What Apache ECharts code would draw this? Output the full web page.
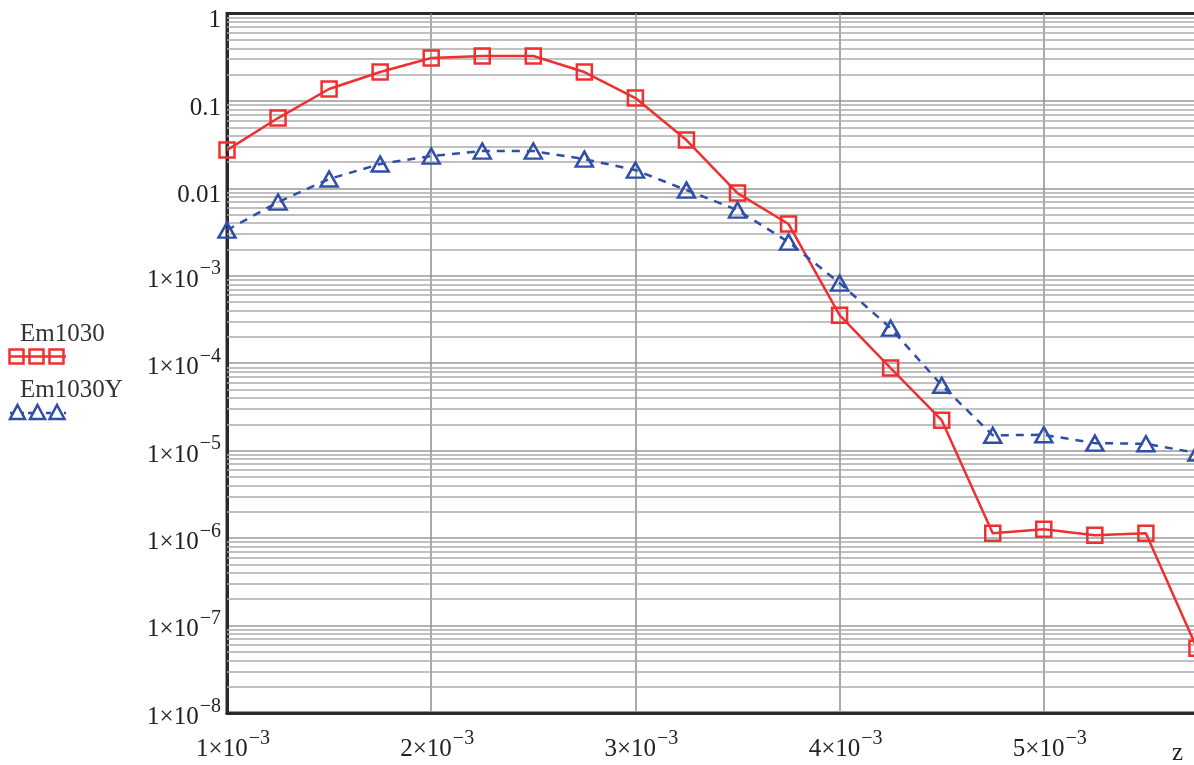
<!DOCTYPE html>
<html><head><meta charset="utf-8">
<script src="https://cdn.jsdelivr.net/npm/echarts@6/dist/echarts.min.js"></script>
<style>html,body{margin:0;padding:0;background:#fff}#c{width:1194px;height:765px}</style>
</head><body><div id="c"></div>
<script>
// ---- data ----
const zValues = [0.00100, 0.00125, 0.00150, 0.00175, 0.00200, 0.00225, 0.00250, 0.00275, 0.00300, 0.00325,
                 0.00350, 0.00375, 0.00400, 0.00425, 0.00450, 0.00475, 0.00500, 0.00525, 0.00550, 0.00575];
const em1030 = [0.0274, 0.0637, 0.137, 0.214, 0.31, 0.326, 0.326, 0.214, 0.108, 0.0357,
                0.00883, 0.00391, 3.55e-4, 8.8e-5, 2.23e-5, 1.14e-6, 1.26e-6, 1.08e-6, 1.14e-6, 5.5e-8];
const em1030Y = [0.00333, 0.00697, 0.0128, 0.019, 0.0234, 0.0267, 0.0267, 0.0216, 0.0162, 0.00955,
                 0.00565, 0.00243, 8.26e-4, 2.52e-4, 5.6e-5, 1.5e-5, 1.52e-5, 1.22e-5, 1.2e-5, 9.4e-6];
const seriesNames = ['Em1030', 'Em1030Y'];
const xTickValues = [0.001, 0.002, 0.003, 0.004, 0.005, 0.006];
const xTickLabels = ['{b|1×10}{s|−3}', '{b|2×10}{s|−3}', '{b|3×10}{s|−3}', '{b|4×10}{s|−3}', '{b|5×10}{s|−3}', '{b|6×10}{s|−3}'];
const yTickExponents = [0, -1, -2, -3, -4, -5, -6, -7, -8];
const yTickLabels = ['{p|1}', '{p|0.1}', '{p|0.01}', '{b|1×10}{s|−3}', '{b|1×10}{s|−4}', '{b|1×10}{s|−5}',
                     '{b|1×10}{s|−6}', '{b|1×10}{s|−7}', '{b|1×10}{s|−8}'];
const xAxisName = 'z';
// minor log grid values (2..9 of each decade)
const minorMantissas = [2, 3, 4, 5, 6, 7, 8, 9];
const minorDecades = [1e-8, 1e-7, 1e-6, 1e-5, 1e-4, 1e-3, 1e-2, 1e-1];

// ---- styling ----
const FONT = 'Liberation Serif';
const TXT = '#222';
const RED = '#ee3030';
const BLUE = '#2f4ea8';
const rich = {
  b: {fontFamily: FONT, fontSize: 25, lineHeight: 25, color: TXT, padding: [8.5, 0, 0, 0]},
  s: {fontFamily: FONT, fontSize: 20, lineHeight: 20, color: TXT, padding: [0, 0, 13.5, 1]},
  p: {fontFamily: FONT, fontSize: 25, lineHeight: 25, color: TXT, padding: [14, 0, 0, 0]}
};

const minorLines = [];
minorDecades.forEach(d => minorMantissas.forEach(m => minorLines.push({yAxis: m * d})));

const chart = echarts.init(document.getElementById('c'), null, {renderer: 'canvas'});
chart.setOption({
  backgroundColor: '#fff',
  animation: false,
  grid: {left: 227, top: 13.5, width: 1021, height: 699.5, outerBoundsMode: 'none', containLabel: false,
         show: true, borderColor: '#2a2a2a', borderWidth: 3, backgroundColor: 'transparent'},
  xAxis: {
    type: 'value', min: 0.001, max: 0.006, interval: 0.001,
    axisLine: {show: true, onZero: false, lineStyle: {color: '#2a2a2a', width: 3}},
    axisTick: {show: false},
    splitLine: {show: true, showMinLine: false, showMaxLine: false, lineStyle: {color: '#8a918a', width: 1.5}},
    axisLabel: {
      margin: 20, padding: [0, 0, 0, 12], rich: rich,
      formatter: v => { const i = xTickValues.findIndex(t => Math.abs(t - v) < 1e-9); return i >= 0 ? xTickLabels[i] : ''; }
    }
  },
  yAxis: {
    type: 'log', logBase: 10, min: 1e-8, max: 1, splitNumber: 8,
    axisLine: {show: true, lineStyle: {color: '#2a2a2a', width: 3}},
    axisTick: {show: false},
    splitLine: {show: true, showMinLine: false, showMaxLine: false, lineStyle: {color: '#9a9a9a', width: 1.5}},
    axisLabel: {
      margin: 6, rich: rich,
      formatter: v => { const e = Math.round(Math.log10(v)); const i = yTickExponents.indexOf(e); return i >= 0 ? yTickLabels[i] : ''; }
    }
  },
  legend: {
    orient: 'vertical', left: 10, top: 317, icon: 'none', itemWidth: 0, itemGap: 31,
    selectedMode: false, data: seriesNames,
    textStyle: {fontFamily: FONT, fontSize: 25, lineHeight: 25, color: '#333'}
  },
  series: [
    {
      name: seriesNames[0], type: 'line', data: zValues.map((z, i) => [z, em1030[i]]),
      symbol: 'rect', symbolSize: 15, showAllSymbol: true, z: 3,
      lineStyle: {color: RED, width: 2.5},
      itemStyle: {color: 'rgba(0,0,0,0)', borderColor: RED, borderWidth: 2.5},
      markLine: {
        silent: true, symbol: 'none', z: 1, animation: false, precision: 12,
        label: {show: false},
        lineStyle: {color: '#ababab', width: 1.5, type: 'solid'},
        emphasis: {disabled: true},
        data: minorLines
      }
    },
    {
      name: seriesNames[1], type: 'line', data: zValues.map((z, i) => [z, em1030Y[i]]),
      symbol: 'triangle', symbolSize: [17, 15], showAllSymbol: true, z: 4,
      lineStyle: {color: BLUE, width: 2.5, type: [8, 7]},
      itemStyle: {color: 'rgba(0,0,0,0)', borderColor: BLUE, borderWidth: 2.5}
    }
  ],
  graphic: [
    {type: 'text', left: 1172, top: 741, style: {text: xAxisName, fontFamily: FONT, fontSize: 25, fill: TXT}},
    // legend samples
    {type: 'line', shape: {x1: 9, y1: 356.5, x2: 66, y2: 356.5}, style: {stroke: RED, lineWidth: 2.5}},
    {type: 'rect', shape: {x: 9.5, y: 349.5, width: 14, height: 14}, style: {fill: 'none', stroke: RED, lineWidth: 2.5}},
    {type: 'rect', shape: {x: 29.5, y: 349.5, width: 14, height: 14}, style: {fill: 'none', stroke: RED, lineWidth: 2.5}},
    {type: 'rect', shape: {x: 49.5, y: 349.5, width: 14, height: 14}, style: {fill: 'none', stroke: RED, lineWidth: 2.5}},
    {type: 'line', shape: {x1: 10, y1: 413, x2: 66, y2: 413}, style: {stroke: BLUE, lineWidth: 2.5, lineDash: [5, 4]}},
    {type: 'polygon', shape: {points: [[17.5, 405], [25, 419], [10, 419]]}, style: {fill: '#fff', stroke: BLUE, lineWidth: 2.5}},
    {type: 'polygon', shape: {points: [[37.5, 405], [45, 419], [30, 419]]}, style: {fill: '#fff', stroke: BLUE, lineWidth: 2.5}},
    {type: 'polygon', shape: {points: [[57, 405], [64.5, 419], [49.5, 419]]}, style: {fill: '#fff', stroke: BLUE, lineWidth: 2.5}}
  ]
});
</script></body></html>
